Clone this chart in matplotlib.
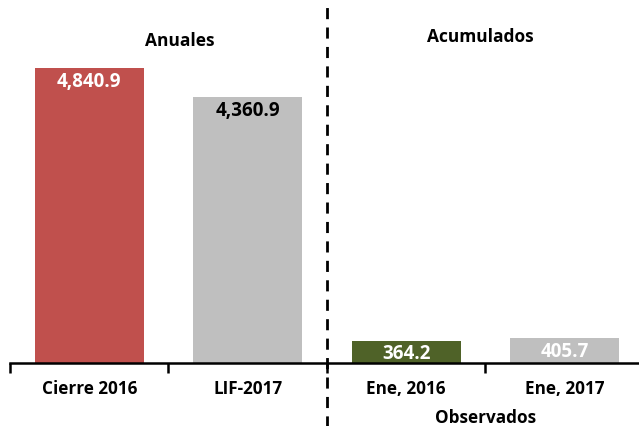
import matplotlib
matplotlib.use("Agg")
import matplotlib.pyplot as plt
import numpy as np

categories = ["Cierre 2016", "LIF-2017", "Ene, 2016", "Ene, 2017"]
values = [4840.9, 4360.9, 364.2, 405.7]
value_labels = ["4,840.9", "4,360.9", "364.2", "405.7"]
bar_colors = ["#C0504D", "#BFBFBF", "#4F6228", "#BFBFBF"]
label_colors = ["white", "black", "white", "white"]
group_titles = ["Anuales", "Acumulados"]
sub_label = "Observados"

plt.rcParams['font.family'] = ['Open Sans', 'DejaVu Sans']

W, H = 639, 426
fig = plt.figure(figsize=(W / 100, H / 100), dpi=100)
x0, x1 = 10, 644
ybase = 363
ax = fig.add_axes([x0 / W, (H - ybase) / H, (x1 - x0) / W, ybase / H])
ymax = 5960
ax.set_xlim(-0.5, 3.5)
ax.set_ylim(0, ymax)

x = np.arange(len(categories))
ax.bar(x, values, width=0.685, color=bar_colors, zorder=2)

off = 13.5 / ybase * ymax
for xi, v, lab, c in zip(x, values, value_labels, label_colors):
    ax.text(xi, v - off, lab, ha="center", va="center", color=c,
            fontsize=13.5, fontweight="bold", zorder=3)

for s in ["top", "right", "left"]:
    ax.spines[s].set_visible(False)
ax.spines["bottom"].set_linewidth(1.8)
ax.spines["bottom"].set_zorder(4)
ax.set_yticks([])
ax.set_xticks(np.arange(-0.5, 4.0, 1.0))
ax.set_xticklabels([])
ax.tick_params(axis="x", which="major", direction="out", length=7, width=1.8)
ax.set_xticks(x, minor=True)
ax.set_xticklabels(categories, minor=True, fontsize=12.3, fontweight="bold")
ax.tick_params(axis="x", which="minor", length=0, pad=12)

# dashed divider
ax.axvline(1.5, ymin=-0.2, ymax=1.0, color="black", linestyle=(0, (4, 3)),
           linewidth=2, clip_on=False, zorder=5)

ax.text(0.57, 1.0 - 41 / ybase, group_titles[0], transform=ax.get_xaxis_transform(),
        ha="center", va="center", fontsize=12.5, fontweight="bold")
ax.text(2.47, 1.0 - 37 / ybase, group_titles[1], transform=ax.get_xaxis_transform(),
        ha="center", va="center", fontsize=12.5, fontweight="bold")
ax.text(2.5, -(418 - ybase) / ybase, sub_label, transform=ax.get_xaxis_transform(),
        ha="center", va="center", fontsize=12.3, fontweight="bold")

fig.savefig("out.png", dpi=100)
